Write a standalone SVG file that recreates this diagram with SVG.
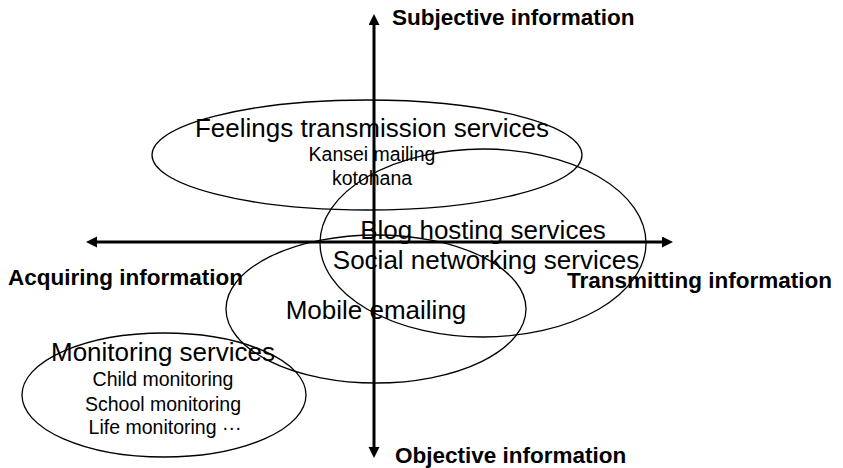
<svg xmlns="http://www.w3.org/2000/svg" width="843" height="468" viewBox="0 0 843 468">
<style>
.e{fill:none;stroke:#000;stroke-width:1.3}
.ax{stroke:#000;stroke-width:3;fill:none}
.big{font-family:"Liberation Sans",Arial,sans-serif;font-size:26px;fill:#000;text-anchor:middle}
.sm{font-family:"Liberation Sans",Arial,sans-serif;font-size:19.5px;fill:#000;text-anchor:middle}
.lab{font-family:"Liberation Sans",Arial,sans-serif;font-size:22.5px;font-weight:bold;fill:#000}
</style>
<defs>
<marker id="ah" markerWidth="12" markerHeight="12" refX="0" refY="5.5" orient="auto-start-reverse" markerUnits="userSpaceOnUse">
<path d="M0,0 L11,5.5 L0,11 Z" fill="#000"/>
</marker>
</defs>
<g id="connectors">
<line class="ax" x1="374" y1="25" x2="374" y2="447" marker-start="url(#ah)" marker-end="url(#ah)"/>
<line class="ax" x1="97" y1="242" x2="662" y2="242" marker-start="url(#ah)" marker-end="url(#ah)"/>
</g>
<g id="axis-labels">
<text class="lab" x="392" y="25">Subjective information</text>
<text class="lab" x="395" y="463">Objective information</text>
<text class="lab" x="8" y="285">Acquiring information</text>
<text class="lab" x="567" y="288">Transmitting information</text>
</g>
<g id="feelings">
<ellipse class="e" cx="367" cy="155" rx="215" ry="55"/>
<text class="big" x="372" y="137">Feelings transmission services</text>
<text class="sm" x="372" y="161">Kansei mailing</text>
<text class="sm" x="372" y="185">kotohana</text>
</g>
<g id="blog">
<ellipse class="e" cx="483" cy="243" rx="163" ry="94"/>
<text class="big" x="483" y="239">Blog hosting services</text>
<text class="big" x="486" y="269">Social networking services</text>
</g>
<g id="mobile">
<ellipse class="e" cx="376" cy="309" rx="150" ry="74"/>
<text class="big" x="376" y="319">Mobile emailing</text>
</g>
<g id="monitoring">
<ellipse class="e" cx="164" cy="395" rx="142" ry="62"/>
<text class="big" x="163" y="361">Monitoring services</text>
<text class="sm" x="163" y="386">Child monitoring</text>
<text class="sm" x="163" y="411">School monitoring</text>
<text class="sm" x="165" y="434">Life monitoring  ···</text>
</g>
</svg>
